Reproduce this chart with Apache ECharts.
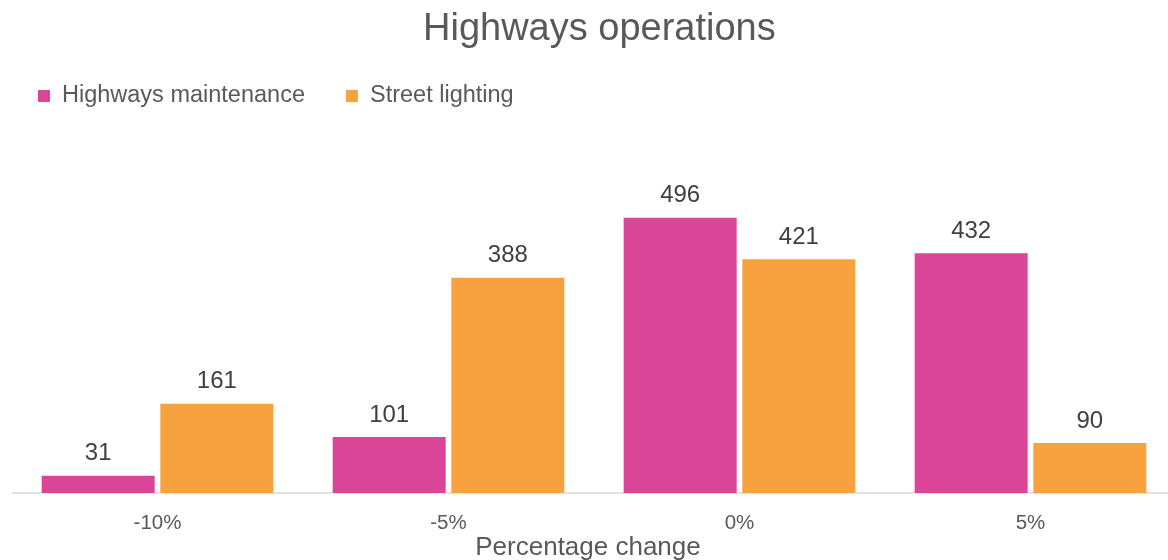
<!DOCTYPE html>
<html lang="en">

<head>
    <meta charset="UTF-8">
    <title>Highways operations</title>
    <style>
        * {
            margin: 0;
            padding: 0;
        }

        html,
        body,
        #chart {
            width: 1168px;
            height: 560px;
            overflow: hidden;
            background: #fff;
        }
    </style>
</head>

<body>
    <div id="chart"></div>
    <script src="https://cdn.jsdelivr.net/npm/echarts@6/dist/echarts.min.js"></script>
    <script>
        let categories = ['-10%', '-5%', '0%', '5%'];
        let maintenance = [31, 101, 496, 432];
        let lighting = [161, 388, 421, 90];

        let font = 'Liberation Sans, Arial, sans-serif';

        let chart = echarts.init(document.getElementById('chart'));
        let option = {
            animation: false,
            title: {
                text: 'Highways operations',
                left: 423,
                top: 11,
                padding: 0,
                textStyle: {
                    fontFamily: font,
                    fontSize: 38,
                    fontWeight: 'normal',
                    color: '#595959'
                }
            },
            legend: {
                left: 33,
                top: 79,
                itemWidth: 12,
                itemHeight: 12,
                itemGap: 41,
                icon: 'rect',
                textStyle: {
                    fontFamily: font,
                    fontSize: 23.5,
                    color: '#595959',
                    padding: [0, 0, 0, 7]
                }
            },
            grid: {
                left: 12,
                right: -8,
                top: 160,
                bottom: 67,
                outerBoundsMode: 'none',
                containLabel: false
            },
            xAxis: {
                type: 'category',
                data: categories,
                name: 'Percentage change',
                nameLocation: 'middle',
                nameGap: 42,
                nameMoveOverlap: false,
                nameTextStyle: {
                    fontFamily: font,
                    fontSize: 26,
                    color: '#595959',
                    padding: [0, 12, 0, 0]
                },
                axisLine: {
                    lineStyle: { color: '#d9d9d9', width: 1.5 }
                },
                axisTick: { show: false },
                axisLabel: {
                    margin: 20,
                    fontFamily: font,
                    fontSize: 20.5,
                    color: '#595959'
                }
            },
            yAxis: {
                type: 'value',
                min: 0,
                max: 600,
                show: false
            },
            series: [{
                name: 'Highways maintenance',
                type: 'bar',
                data: maintenance,
                barWidth: 113,
                barGap: '5%',
                itemStyle: { color: '#DB4598' },
                label: {
                    show: true,
                    position: 'top',
                    distance: 10,
                    fontFamily: font,
                    fontSize: 24,
                    color: '#404040'
                }
            }, {
                name: 'Street lighting',
                type: 'bar',
                data: lighting,
                barWidth: 113,
                itemStyle: { color: '#F7A23F' },
                label: {
                    show: true,
                    position: 'top',
                    distance: 10,
                    fontFamily: font,
                    fontSize: 24,
                    color: '#404040'
                }
            }]
        };
        chart.setOption(option);
    </script>
</body>

</html>
